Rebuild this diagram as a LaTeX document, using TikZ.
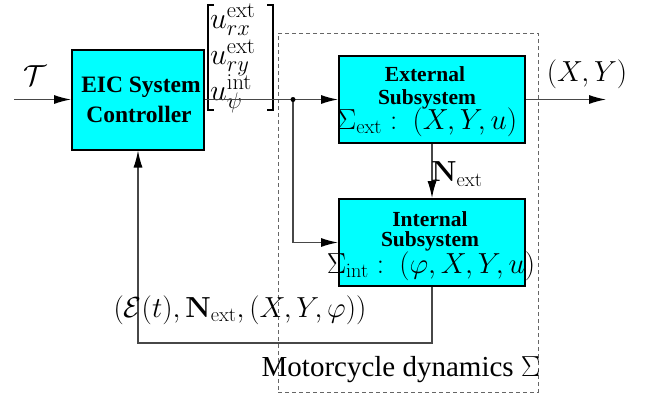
\RequirePackage{fix-cm}
\documentclass[tikz,border=0pt]{standalone}
\usepackage{amsmath}
\usepackage[no-math]{fontspec}
\setmainfont{Liberation Serif}[BoldFont={Liberation Serif Bold}]
\usetikzlibrary{arrows.meta}
\definecolor{aqua}{RGB}{0,255,255}
% the control vector is set a little larger, with larger scripts
\DeclareMathSizes{30}{30}{22.5}{16}

\begin{document}
\begin{tikzpicture}[x=1pt,y=-1pt,
  blk/.style={draw=black, line width=2pt, fill=aqua, inner sep=0pt},
  conn/.style={draw=black!72, line width=1.2pt},
  arr/.style={conn, -{Latex[length=17pt,width=9pt,color=black]}},
  lbl/.style={inner sep=0pt, font=\fontsize{29}{35}\selectfont},
  entry/.style={inner sep=0pt, anchor=base west, font=\fontsize{30}{36}\selectfont},
  brk/.style={draw=black, line width=2.5pt, line join=miter},
  btxt/.style={inner sep=0pt, font=\fontsize{21.5}{26}\selectfont\bfseries},
  bigbtxt/.style={inner sep=0pt, font=\fontsize{23.5}{28}\selectfont\bfseries},
  region/.style={draw=black!60, line width=1pt, dash pattern=on 4pt off 3pt, inner sep=0pt},
]
\useasboundingbox (0,0) rectangle (650,394);

% dashed outline of the plant
\node[region, minimum width=260pt, minimum height=359pt] (dyn) at (408,212.5) {};

% blocks
\node[blk, minimum width=132pt, minimum height=100pt] (eic) at (138,99.5) {};
\node[blk, minimum width=186pt, minimum height=87pt] (ext) at (432,99.5) {};
\node[blk, minimum width=186pt, minimum height=87pt] (int) at (432,242.5) {};

% block texts
\node[bigbtxt] (eic1) at (141,87) {EIC System};
\node[bigbtxt] (eic2) at (139,114) {Controller};
\node[btxt] (ext1) at (425,74) {External};
\node[btxt] (ext2) at (427,99) {Subsystem};
\node[lbl] (ext3) at (427,122) {$\Sigma_{\mathrm{ext}}:~(X,Y,u)$};
\node[btxt] (int1) at (430,219) {Internal};
\node[btxt] (int2) at (430,241) {Subsystem};
\node[lbl] (int3) at (431,266) {$\Sigma_{\mathrm{int}}:~(\varphi,X,Y,u)$};

% control vector: three entries between square brackets
\node[entry] (u1) at (210,28) {$u^{\mathrm{ext}}_{rx}$};
\node[entry] (u2) at (210,64) {$u^{\mathrm{ext}}_{ry}$};
\node[entry] (u3) at (210,100) {$u^{\mathrm{int}}_{\psi}$};
\draw[brk] (214,5) -- (208,5) -- (208,110) -- (214,110);
\draw[brk] (267,5) -- (273,5) -- (273,110) -- (267,110);

% coordinates for free ends and corners
\coordinate (tauin) at (14,99.5);
\coordinate (split) at (293,99.5);
\coordinate (out) at (606,99.5);
\coordinate (fb) at (432,343);

% connectors
\draw[arr] (tauin) -- (eic.west);
\draw[arr] (eic.east) -- (ext.west);
\draw[arr] (split) |- (int.west);
\fill[black] (split) circle (2.5pt);
\draw[arr] (ext.east) -- (out);
\draw[arr] (ext.south) -- (int.north);
\draw[arr] (int.south) -- (fb) -| (eic.south);

% labels
\node[lbl] (tau) at (35,76) {$\mathcal{T}$};
\node[lbl] (xy) at (587,74) {$(X,Y)$};
\node[lbl, anchor=west] (next) at (431,174) {$\mathbf{N}_{\mathrm{ext}}$};
\node[lbl] (fbl) at (240,310) {$(\mathcal{E}(t),\mathbf{N}_{\mathrm{ext}},(X,Y,\varphi))$};
\node[lbl] (dynl) at (401,370) {Motorcycle dynamics $\Sigma$};
\end{tikzpicture}
\end{document}
